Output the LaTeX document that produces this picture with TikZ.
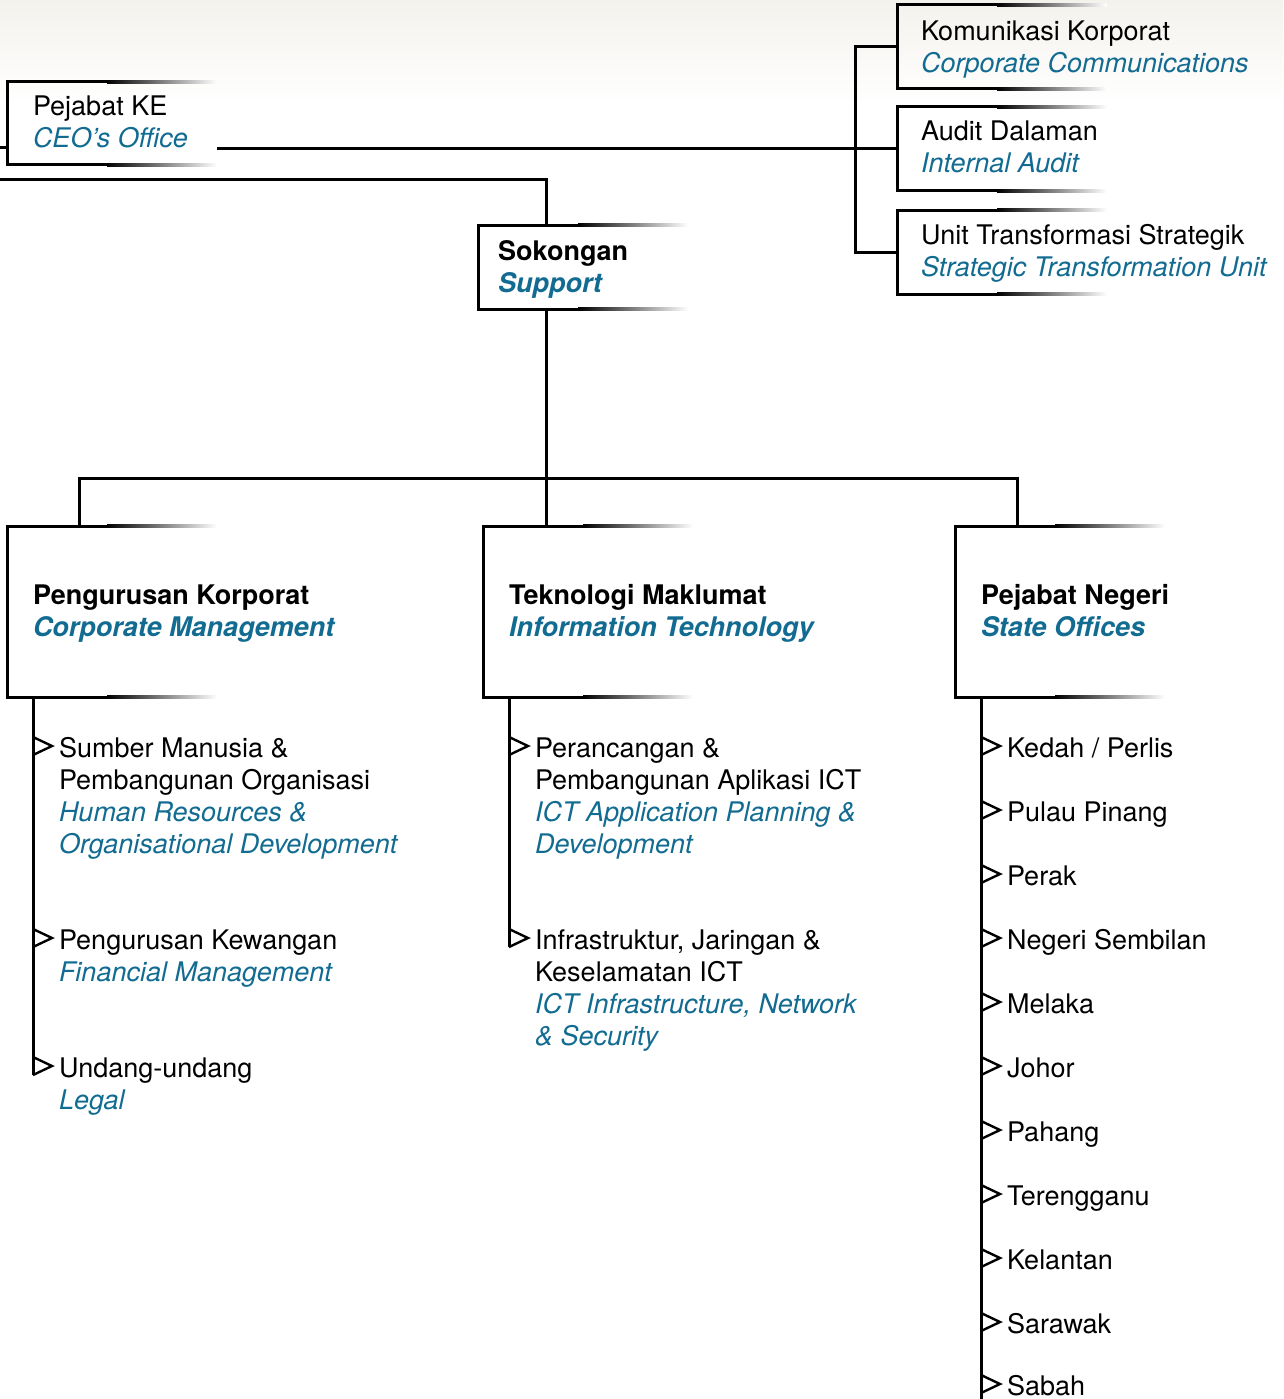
\documentclass[tikz,border=0pt]{standalone}
\usepackage{fontspec}
\setmainfont{TeX Gyre Heros}
\usetikzlibrary{calc}
\definecolor{blu}{RGB}{18,107,145}
\definecolor{bgtop}{RGB}{244,242,237}
\newcommand\en[1]{{\color{blu}\itshape #1}}
\newcommand\enb[1]{{\color{blu}\bfseries\itshape #1}}
\newcommand\stack[1]{\begin{tabular}[t]{@{}l@{}}#1\end{tabular}}
\newcommand\orgbox[4]{%
 \node[boxnode, minimum height=#4pt] (#1) at (#2,#3) {};
 \draw[boxedge] ([xshift=100pt]#1.north west) -- (#1.north west) -- (#1.south west) -- ([xshift=100pt]#1.south west);
 \shade[left color=black,right color=white] ([xshift=100pt,yshift=-1.5pt]#1.north west) rectangle ([xshift=210pt,yshift=1.5pt]#1.north west);
 \shade[left color=black,right color=white] ([xshift=100pt,yshift=-1.5pt]#1.south west) rectangle ([xshift=210pt,yshift=1.5pt]#1.south west);
}
\newcommand\itemmark[1]{\draw[mk] ([xshift=-26pt,yshift=20pt]#1.base west) -- ([xshift=-7pt,yshift=11pt]#1.base west) -- ([xshift=-26pt,yshift=2pt]#1.base west);}
\begin{document}
\begin{tikzpicture}[x=1pt,y=-1pt,
 conn/.style={line width=3pt},
 boxedge/.style={line width=3pt, line join=miter},
 mk/.style={line width=2.4pt, line join=miter},
 boxnode/.style={rectangle, inner sep=0pt, outer sep=0pt, anchor=north west, minimum width=210pt},
 lbl/.style={inner sep=0pt, outer sep=0pt, anchor=base west, font=\fontsize{27}{32}\selectfont}]
\useasboundingbox (0,0) rectangle (1283,1399);
\shade[top color=bgtop,bottom color=white] (0,0) rectangle (1283,105);

% boxes
\orgbox{ke}{7}{82}{83}
\orgbox{kom}{897}{5}{84}
\orgbox{aud}{897}{107}{84}
\orgbox{uts}{897}{210}{84}
\orgbox{sok}{478}{225}{84}
\orgbox{cm}{7}{526}{171}
\orgbox{it}{483}{526}{171}
\orgbox{so}{955}{526}{171}

% free ends
\coordinate (in1) at (0,148);
\coordinate (in2) at (0,180);
\coordinate (brk) at (855,0);
\coordinate (bus) at (0,478);
\coordinate (endr) at (981,1399);

% connectors
\draw[conn] (in1) -- (in1 -| ke.west);
\draw[conn] (ke.east |- aud.west) -- (aud.west);
\draw[conn] (kom.west) -- (kom.west -| brk) -- (uts.west -| brk) -- (uts.west);
\draw[conn] (in2) -| ([xshift=68pt]sok.north west);
\draw[conn] ([xshift=68pt]sok.south west) -- ([xshift=68pt]sok.south west |- bus);
\draw[conn] ([xshift=72pt]cm.north west) |- ([xshift=62pt]so.north west |- bus) -- ([xshift=62pt]so.north west);
\draw[conn] ([xshift=63pt]it.north west) -- ([xshift=63pt]it.north west |- bus);

% labels
\node[lbl] (tke) at (33,116) {\stack{Pejabat KE\\\en{CEO’s Office}}};
\node[lbl] (tkom) at (921,41) {\stack{Komunikasi Korporat\\\en{Corporate Communications}}};
\node[lbl] (taud) at (921,141) {\stack{Audit Dalaman\\\en{Internal Audit}}};
\node[lbl] (tuts) at (921,244) {\stack{Unit Transformasi Strategik\\\en{Strategic Transformation Unit}}};
\node[lbl] (tsok) at (498,260) {\stack{\textbf{Sokongan}\\\enb{Support}}};
\node[lbl] (tcm) at (33,604) {\stack{\textbf{Pengurusan Korporat}\\\enb{Corporate Management}}};
\node[lbl] (tit) at (509,604) {\stack{\textbf{Teknologi Maklumat}\\\enb{Information Technology}}};
\node[lbl] (tso) at (981,604) {\stack{\textbf{Pejabat Negeri}\\\enb{State Offices}}};

% left list
\node[lbl] (l1) at (59,757) {\stack{Sumber Manusia \&\\Pembangunan Organisasi\\\en{Human Resources \&}\\\en{Organisational Development}}};
\node[lbl] (l2) at (59,949) {\stack{Pengurusan Kewangan\\\en{Financial Management}}};
\node[lbl] (l3) at (59,1077) {\stack{Undang-undang\\\en{Legal}}};
\draw[conn] ([xshift=26pt]cm.south west) -- ([xshift=-26pt,yshift=2pt]l3.base west);
\itemmark{l1}\itemmark{l2}\itemmark{l3}

% middle list
\node[lbl] (m1) at (535,757) {\stack{Perancangan \&\\Pembangunan Aplikasi ICT\\\en{ICT Application Planning \&}\\\en{Development}}};
\node[lbl] (m2) at (535,949) {\stack{Infrastruktur, Jaringan \&\\Keselamatan ICT\\\en{ICT Infrastructure, Network}\\\en{\& Security}}};
\draw[conn] ([xshift=26pt]it.south west) -- ([xshift=-26pt,yshift=2pt]m2.base west);
\itemmark{m1}\itemmark{m2}

% right list
\node[lbl] (r1) at (1007,757) {Kedah / Perlis};
\node[lbl] (r2) at (1007,821) {Pulau Pinang};
\node[lbl] (r3) at (1007,885) {Perak};
\node[lbl] (r4) at (1007,949) {Negeri Sembilan};
\node[lbl] (r5) at (1007,1013) {Melaka};
\node[lbl] (r6) at (1007,1077) {Johor};
\node[lbl] (r7) at (1007,1141) {Pahang};
\node[lbl] (r8) at (1007,1205) {Terengganu};
\node[lbl] (r9) at (1007,1269) {Kelantan};
\node[lbl] (r10) at (1007,1333) {Sarawak};
\node[lbl] (r11) at (1007,1395) {Sabah};
\draw[conn] ([xshift=26pt]so.south west) -- (endr);
\itemmark{r1}\itemmark{r2}\itemmark{r3}\itemmark{r4}\itemmark{r5}\itemmark{r6}\itemmark{r7}\itemmark{r8}\itemmark{r9}\itemmark{r10}\itemmark{r11}
\end{tikzpicture}
\end{document}
